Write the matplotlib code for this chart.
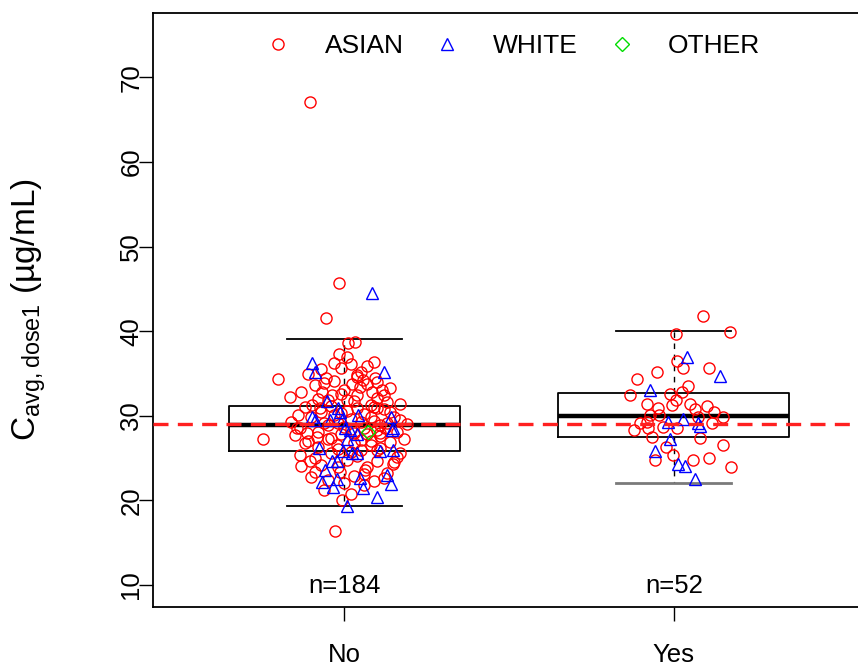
import numpy as np
import matplotlib
matplotlib.use("Agg")
import matplotlib.pyplot as plt
from matplotlib.lines import Line2D

plt.rcParams["font.family"] = ["Liberation Sans", "DejaVu Sans"]
plt.rcParams["mathtext.fontset"] = "custom"
plt.rcParams["mathtext.rm"] = "Liberation Sans"

groups = ["No", "Yes"]
group_n = [184, 52]
ref_line = 29.0

# box statistics per group
box_q1 = [25.8, 27.5]
box_med = [28.9, 30.0]
box_q3 = [31.2, 32.7]
box_lo = [19.3, 22.1]
box_hi = [39.1, 40.0]

# jittered individual values: (offset from group centre, Cavg)
no_asian = [
    (-0.103, 67.1), (-0.015, 45.7), (-0.055, 41.6), (0.012, 38.6), (0.033, 38.7),
    (-0.015, 37.3), (-0.200, 34.4), (-0.164, 32.2), (-0.130, 32.8), (-0.055, 34.5),
    (0.039, 34.8), (0.058, 34.2), (0.094, 34.5), (0.115, 33.1), (0.085, 32.8),
    (-0.067, 32.8), (-0.036, 32.5), (0.024, 33.7), (0.048, 33.4), (-0.097, 31.3),
    (-0.073, 30.9), (0.100, 30.9), (0.170, 29.5), (-0.133, 28.6), (-0.245, 27.2),
    (-0.133, 25.4), (-0.103, 24.6), (-0.012, 23.4), (-0.006, 20.1), (-0.027, 16.4),
    (-0.088, 23.3), (0.064, 23.6), (0.100, 24.6), (0.148, 24.3), (0.170, 25.6),
    (-0.142, 28.6), (-0.112, 28.0), (-0.082, 27.5), (-0.048, 27.2), (-0.021, 26.6),
    (0.109, 28.0), (0.124, 28.6),
    (-0.10, 29.8), (-0.07, 30.4), (-0.04, 31.2), (-0.02, 29.1), (0.01, 30.6),
    (0.03, 31.7), (0.06, 30.2), (0.09, 29.4), (0.12, 30.8), (0.15, 29.9),
    (-0.11, 27.0), (-0.08, 26.3), (-0.05, 28.9), (-0.01, 27.8), (0.02, 28.4),
    (0.05, 27.1), (0.08, 26.5), (0.11, 27.6), (0.14, 26.9), (0.16, 28.1),
    (-0.09, 33.6), (-0.06, 33.9), (-0.03, 34.1), (0.00, 33.0), (0.04, 32.4),
    (0.07, 33.8), (0.10, 32.1), (0.13, 31.6), (-0.12, 31.0), (-0.01, 35.6),
    (0.02, 36.1), (0.05, 35.2), (0.08, 31.3), (-0.04, 25.6), (-0.07, 24.2),
    (0.01, 24.8), (0.04, 25.3), (0.07, 24.0), (0.10, 25.9), (0.13, 23.2),
    (-0.10, 22.8), (-0.05, 22.4), (0.03, 22.9), (0.06, 21.8), (0.09, 22.3),
    (-0.02, 26.1), (0.00, 28.7), (0.02, 29.6), (0.04, 30.9), (0.06, 28.6),
    (0.08, 29.9), (0.11, 28.9), (-0.06, 29.2), (-0.08, 28.1), (-0.03, 30.1),
    (0.01, 31.9), (-0.01, 32.6), (0.03, 26.8), (0.05, 26.0), (0.07, 27.9),
    (0.09, 31.0), (0.12, 32.4), (0.14, 30.5), (0.16, 25.1), (-0.09, 25.0),
    (-0.12, 26.8), (-0.14, 30.1), (-0.15, 27.7), (0.17, 31.4), (0.18, 27.3),
    (-0.02, 23.9), (0.00, 22.1), (0.02, 25.7), (0.06, 23.1), (0.10, 28.3),
    (0.13, 29.2), (-0.05, 31.9), (-0.08, 32.0), (0.04, 34.6), (0.07, 35.9),
    (0.01, 37.0), (-0.03, 36.2), (0.10, 34.0), (-0.11, 34.9), (0.03, 28.0),
    (-0.04, 27.4), (0.05, 29.3), (-0.01, 30.3), (0.08, 27.0), (0.11, 26.2),
    (0.15, 24.5), (0.12, 22.6), (-0.06, 21.2), (0.02, 20.8), (-0.13, 24.1),
    (0.19, 29.0), (0.14, 33.3), (-0.16, 29.3), (0.09, 36.4), (-0.07, 35.5),
]
no_white = [
    (0.085, 44.5), (-0.097, 36.25), (-0.088, 35.2), (0.121, 35.2), (-0.052, 31.8),
    (-0.018, 30.9), (-0.012, 30.5), (-0.097, 29.8), (-0.088, 29.5), (-0.042, 29.5),
    (-0.006, 29.5), (0.042, 30.1), (0.142, 29.9), (0.148, 28.6), (0.003, 28.5),
    (0.018, 28.3), (0.039, 27.8), (-0.076, 26.2), (-0.036, 24.6), (-0.021, 24.6),
    (-0.058, 23.6), (-0.067, 22.2), (-0.033, 21.6), (-0.021, 22.5), (0.009, 27.2),
    (0.024, 25.6), (0.039, 25.6), (-0.003, 25.8), (0.109, 25.8), (0.148, 26.0),
    (0.145, 28.3), (0.048, 22.7), (0.058, 21.5), (0.130, 23.0), (0.142, 21.9),
    (0.100, 20.4), (0.009, 19.3),
]
no_other = [(0.073, 28.1)]

yes_asian = [
    (0.088, 41.8), (0.170, 39.9), (0.006, 39.7), (0.009, 36.5), (0.027, 35.7),
    (0.106, 35.7), (-0.052, 35.2), (-0.112, 34.4), (0.042, 33.5), (-0.133, 32.5),
    (-0.012, 32.6), (0.024, 32.8), (-0.082, 31.4), (-0.048, 30.9), (-0.006, 31.3),
    (0.064, 30.8), (0.100, 31.1), (0.121, 30.4), (-0.073, 30.1), (-0.045, 30.1),
    (0.148, 29.8), (0.115, 29.2), (-0.121, 28.3), (-0.079, 28.5), (-0.067, 27.5),
    (-0.033, 28.7), (0.009, 28.6), (0.079, 27.4), (0.148, 26.5), (-0.003, 25.4),
    (-0.058, 24.8), (0.058, 24.8), (0.106, 25.0), (0.173, 24.0), (-0.082, 29.3),
    (0.073, 29.8), (0.006, 31.9), (0.048, 31.4), (-0.024, 26.3), (-0.103, 29.1),
]
yes_white = [
    (0.039, 37.0), (0.139, 34.7), (-0.073, 33.1), (-0.018, 29.3), (0.027, 29.6),
    (0.073, 29.2), (0.079, 28.8), (-0.012, 27.2), (-0.058, 25.8), (0.012, 24.3),
    (0.033, 24.1), (0.064, 22.5),
]
yes_other = []

race_labels = ["ASIAN", "WHITE", "OTHER"]
race_colors = ["#ff0000", "#0000ff", "#00dd00"]
race_markers = ["o", "^", "D"]
race_sizes = [8, 9, 7]
points = [[no_asian, no_white, no_other], [yes_asian, yes_white, yes_other]]

fig = plt.figure(figsize=(8.58, 6.68), dpi=100)
ax = fig.add_axes([153 / 858, 61 / 668, 712 / 858, 594 / 668])

positions = [1, 2]
stats = []
for i in range(len(groups)):
    stats.append(dict(med=box_med[i], q1=box_q1[i], q3=box_q3[i],
                      whislo=box_lo[i], whishi=box_hi[i], fliers=[]))
bp = ax.bxp(stats, positions=positions, widths=0.7, showfliers=False,
            boxprops=dict(color="black", linewidth=1.3),
            medianprops=dict(color="black", linewidth=3.2),
            whiskerprops=dict(color="black", linewidth=1.0, linestyle=(0, (4, 4))),
            capprops=dict(color="black", linewidth=1.3),
            zorder=2)
# lower staple of the second box renders lighter
bp["caps"][2].set_color("#7a7a7a")
bp["caps"][2].set_linewidth(2.0)

for gi, pos in enumerate(positions):
    for ri in range(len(race_labels)):
        vals = points[gi][ri]
        if not vals:
            continue
        xs = [pos + v[0] for v in vals]
        ys = [v[1] for v in vals]
        ax.plot(xs, ys, linestyle="none", marker=race_markers[ri],
                markersize=race_sizes[ri], markerfacecolor="none",
                markeredgecolor=race_colors[ri], markeredgewidth=1.0, zorder=3)

ax.axhline(ref_line, color="#ff2020", linewidth=2.4, linestyle=(0, (4.5, 2.8)), zorder=4)

for pos, n in zip(positions, group_n):
    ax.text(pos, 9.9, f"n={n}", ha="center", va="center", fontsize=18.5)

ax.set_xlim(0.42, 2.58)
ax.set_ylim(7.4, 77.6)
ax.set_xticks(positions)
ax.set_xticklabels(groups, fontsize=18.5)
ax.set_yticks([10, 20, 30, 40, 50, 60, 70])
ax.set_yticklabels(["10", "20", "30", "40", "50", "60", "70"], fontsize=18.5,
                   rotation=90, va="center")
ax.tick_params(axis="x", length=10, width=1.0, pad=16)
ax.tick_params(axis="y", length=10, width=1.0, pad=-3)
for sp in ax.spines.values():
    sp.set_linewidth(1.3)

ax.set_ylabel(r"C$_{\mathregular{avg,dose1}}$ (µg/mL)", fontsize=24)
ax.yaxis.set_label_coords(-0.147, 0.5)

handles = [Line2D([], [], linestyle="none", marker=m, markersize=s,
                  markerfacecolor="none", markeredgecolor=c, markeredgewidth=1.0)
           for m, c, s in zip(race_markers, race_colors, race_sizes)]
ax.legend(handles, race_labels, ncol=3, loc="center", bbox_to_anchor=(0.505, 0.944),
          frameon=False, fontsize=19, handlelength=1.0, handletextpad=1.25,
          columnspacing=1.15)

fig.savefig("out.png", dpi=100)
